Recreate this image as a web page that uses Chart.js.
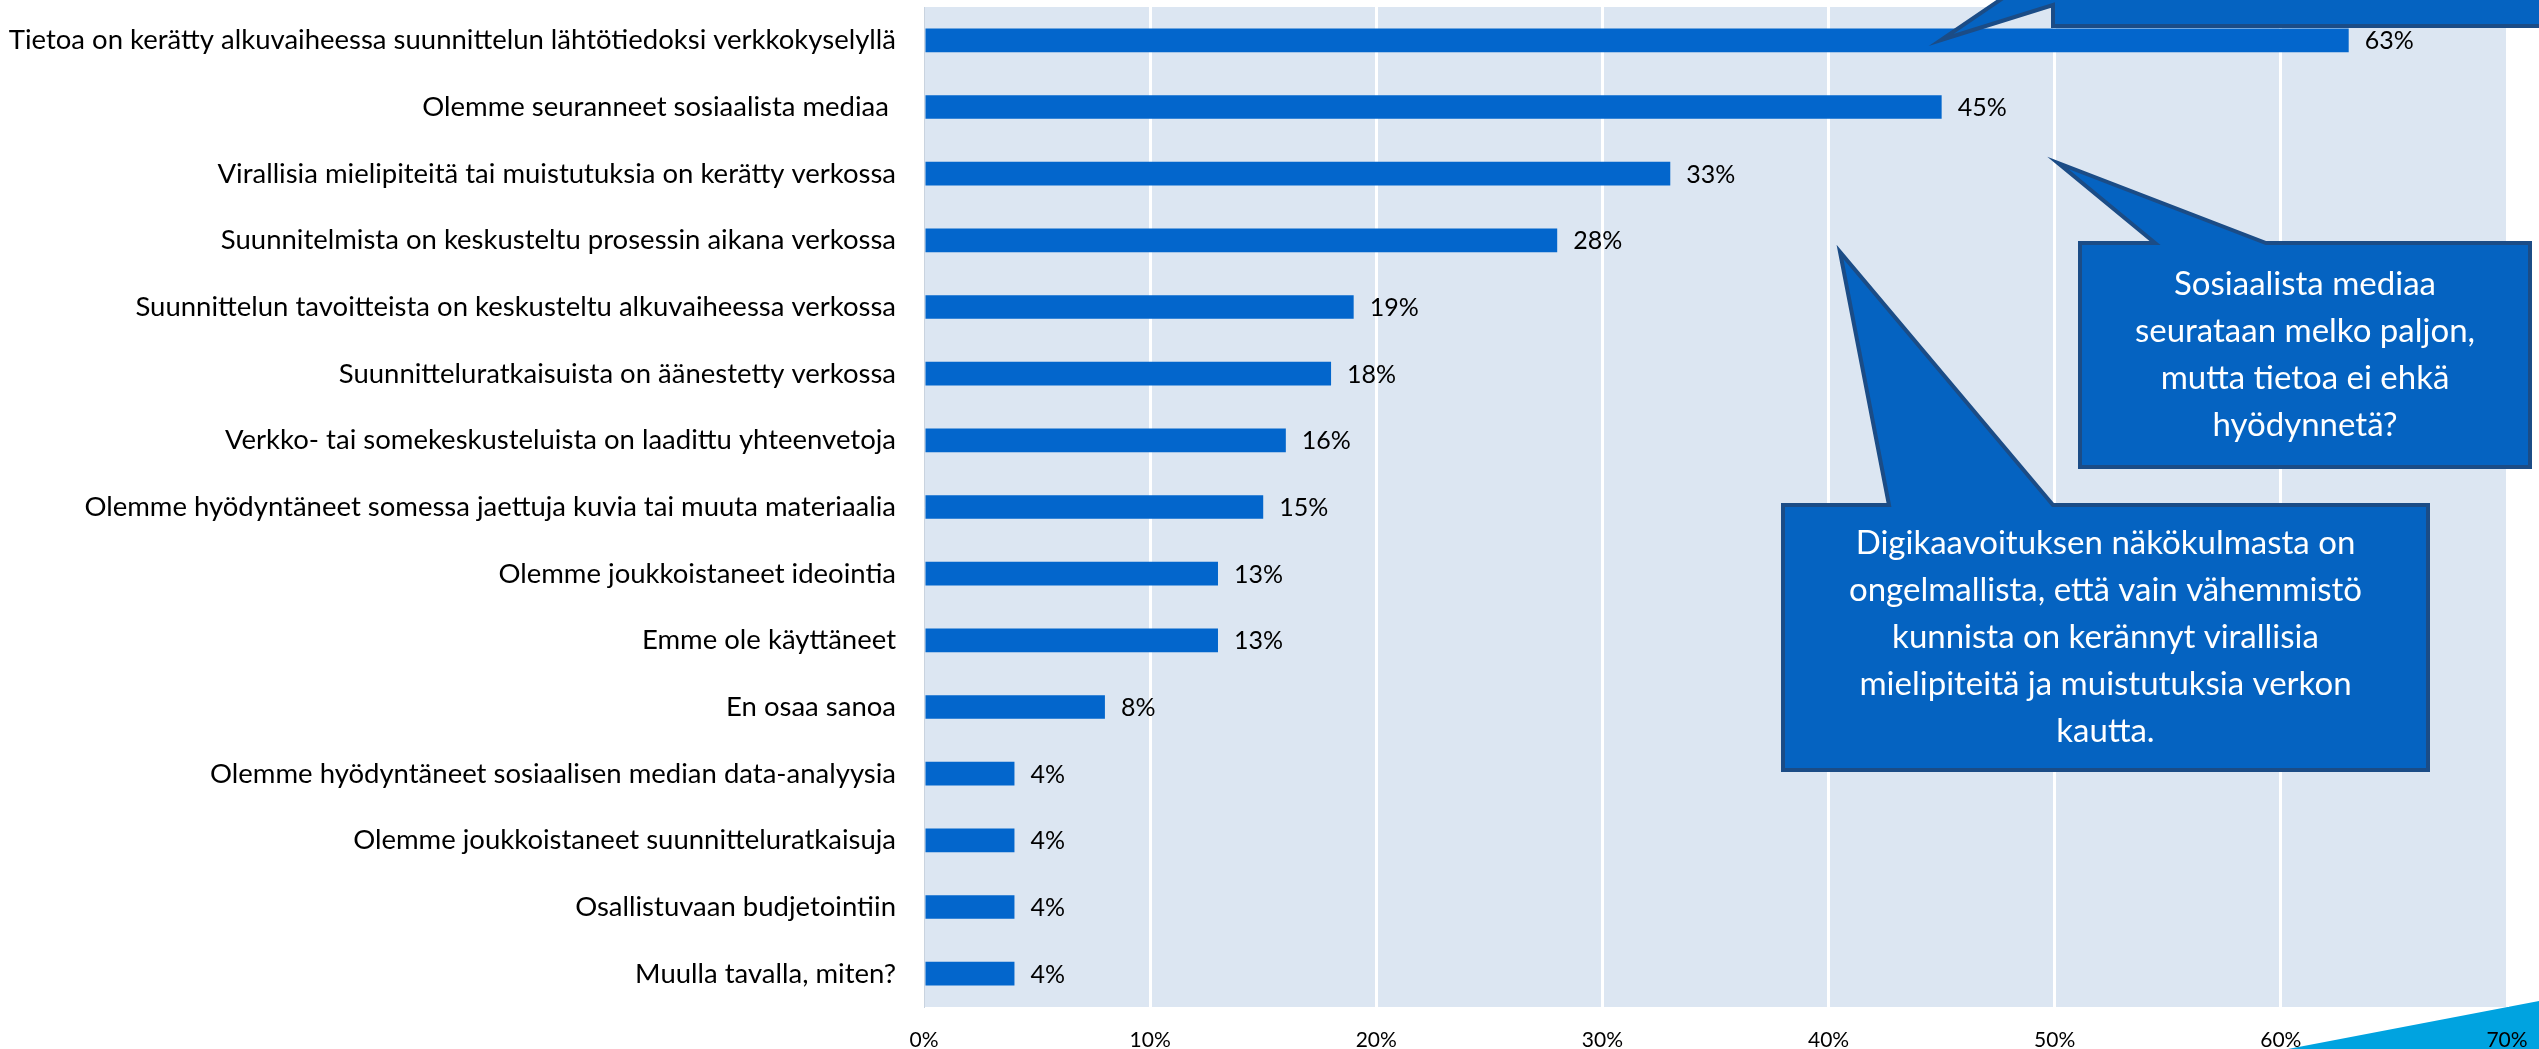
<!DOCTYPE html>
<html lang="fi">
<head>
<meta charset="utf-8">
<title>Verkkokanavien käyttö suunnittelussa</title>
<script src="https://cdn.jsdelivr.net/npm/chart.js@4.4.1/dist/chart.umd.min.js"></script>
<style>
  html, body { margin: 0; padding: 0; background: #fff; }
  #wrap { position: relative; width: 2539px; height: 1049px; }
</style>
</head>
<body>
<div id="wrap"><canvas id="kanavaChart"></canvas></div>
<script>
// data
const kanavat = [
    'Tietoa on kerätty alkuvaiheessa suunnittelun lähtötiedoksi verkkokyselyllä',
    'Olemme seuranneet sosiaalista mediaa ',
    'Virallisia mielipiteitä tai muistutuksia on kerätty verkossa',
    'Suunnitelmista on keskusteltu prosessin aikana verkossa',
    'Suunnittelun tavoitteista on keskusteltu alkuvaiheessa verkossa',
    'Suunnitteluratkaisuista on äänestetty verkossa',
    'Verkko- tai somekeskusteluista on laadittu yhteenvetoja',
    'Olemme hyödyntäneet somessa jaettuja kuvia tai muuta materiaalia',
    'Olemme joukkoistaneet ideointia',
    'Emme ole käyttäneet',
    'En osaa sanoa',
    'Olemme hyödyntäneet sosiaalisen median data-analyysia',
    'Olemme joukkoistaneet suunnitteluratkaisuja',
    'Osallistuvaan budjetointiin',
    'Muulla tavalla, miten?'
];
const osuudet = [63, 45, 33, 28, 19, 18, 16, 15, 13, 13, 8, 4, 4, 4, 4];
const xTickLabels = ['0%', '10%', '20%', '30%', '40%', '50%', '60%', '70%'];

// callout texts
const kommentti1 = ['Sosiaalista mediaa', 'seurataan melko paljon,', 'mutta tietoa ei ehkä', 'hyödynnetä?'];
const kommentti2 = ['Digikaavoituksen näkökulmasta on', 'ongelmallista, että vain vähemmistö',
    'kunnista on kerännyt virallisia', 'mielipiteitä ja muistutuksia verkon', 'kautta.'];

const FONT = 'Lato, "Open Sans", sans-serif';

// callout shapes (pixels), drawn on top of the chart
const puhekuplat = [
    { points: [[2053, -60], [2620, -60], [2620, 26], [2053, 26], [2053, 5], [1941, 40], [2053, -36]],
      box: [2053, -60, 2620, 26], lines: [] },
    { points: [[2080, 243], [2155, 243], [2058, 163], [2266, 243], [2530, 243], [2530, 467], [2080, 467]],
      box: [2080, 243, 2530, 467], lines: kommentti1 },
    { points: [[1783, 505], [1889, 505], [1840, 252], [2053, 505], [2428, 505], [2428, 770], [1783, 770]],
      box: [1783, 505, 2428, 770], lines: kommentti2 }
];

//plugins
const taustaPlugin = {
    id: 'tausta',
    beforeDraw(chart) {
        const { ctx, chartArea: a } = chart;
        ctx.save();
        ctx.fillStyle = '#DCE6F2';
        ctx.fillRect(a.left, a.top, a.right - a.left, a.bottom - a.top);
        // slide decoration in the corner
        ctx.fillStyle = '#00A3E0';
        ctx.beginPath();
        ctx.moveTo(2288, 1049);
        ctx.lineTo(2539, 1001);
        ctx.lineTo(2539, 1049);
        ctx.closePath();
        ctx.fill();
        ctx.restore();
    }
};

const arvoPlugin = {
    id: 'arvot',
    afterDatasetsDraw(chart) {
        const { ctx } = chart;
        const meta = chart.getDatasetMeta(0);
        ctx.save();
        ctx.font = '25px ' + FONT;
        ctx.fillStyle = '#000';
        ctx.textAlign = 'left';
        ctx.textBaseline = 'middle';
        meta.data.forEach((bar, i) => {
            ctx.fillText(osuudet[i] + '%', bar.x + 16, bar.y + 1);
        });
        ctx.restore();
    }
};

const kuplaPlugin = {
    id: 'kuplat',
    afterDraw(chart) {
        const { ctx } = chart;
        ctx.save();
        puhekuplat.forEach(k => {
            ctx.beginPath();
            k.points.forEach((p, i) => i ? ctx.lineTo(p[0], p[1]) : ctx.moveTo(p[0], p[1]));
            ctx.closePath();
            ctx.fillStyle = '#0563C1';
            ctx.fill();
            ctx.lineWidth = 4;
            ctx.lineJoin = 'miter';
            ctx.strokeStyle = '#1B4C86';
            ctx.stroke();

            const cx = (k.box[0] + k.box[2]) / 2;
            const cy = (k.box[1] + k.box[3]) / 2;
            const lh = 47;
            ctx.font = '33px ' + FONT;
            ctx.fillStyle = '#fff';
            ctx.textAlign = 'center';
            ctx.textBaseline = 'middle';
            k.lines.forEach((t, i) => {
                ctx.fillText(t, cx, cy + (i - (k.lines.length - 1) / 2) * lh);
            });
        });
        ctx.restore();
    }
};

//config
const kanavaData = {
    labels: kanavat,
    datasets: [{
        label: 'Osuus vastaajista',
        data: osuudet,
        backgroundColor: '#0366CC',
        borderWidth: 0,
        barPercentage: 0.355,
        categoryPercentage: 1
    }]
};

const kanavaOptions = {
    indexAxis: 'y',
    responsive: true,
    maintainAspectRatio: false,
    animation: false,
    layout: { padding: { top: 7, right: 32, bottom: 0, left: 0 } },
    plugins: {
        legend: { display: false },
        tooltip: { enabled: false }
    },
    scales: {
        x: {
            min: 0,
            max: 70,
            ticks: {
                stepSize: 10,
                padding: 21,
                color: '#000',
                font: { family: FONT, size: 21 },
                callback: (v) => xTickLabels[Math.round(v / 10)]
            },
            grid: {
                color: (c) => c.tick && c.tick.value === 0 ? 'rgba(0,0,0,0)' : '#ffffff',
                lineWidth: 3,
                drawTicks: false
            },
            border: { display: false },
            afterFit: (s) => {
                s.height = 42;
                s.paddingLeft = 0;
                s.paddingRight = 0;
            }
        },
        y: {
            ticks: {
                padding: 28,
                color: '#000',
                font: { family: FONT, size: 27.5 },
                autoSkip: false
            },
            grid: { display: false, drawTicks: false },
            border: { display: true, color: '#C9D3DF', width: 1 },
            afterFit: (s) => {
                s.width = 924;
                s.paddingTop = 0;
                s.paddingBottom = 0;
            }
        }
    }
};

const kanavaChart = new Chart(document.getElementById('kanavaChart'), {
    type: 'bar',
    data: kanavaData,
    options: kanavaOptions,
    plugins: [taustaPlugin, arvoPlugin, kuplaPlugin]
});
</script>
</body>
</html>
